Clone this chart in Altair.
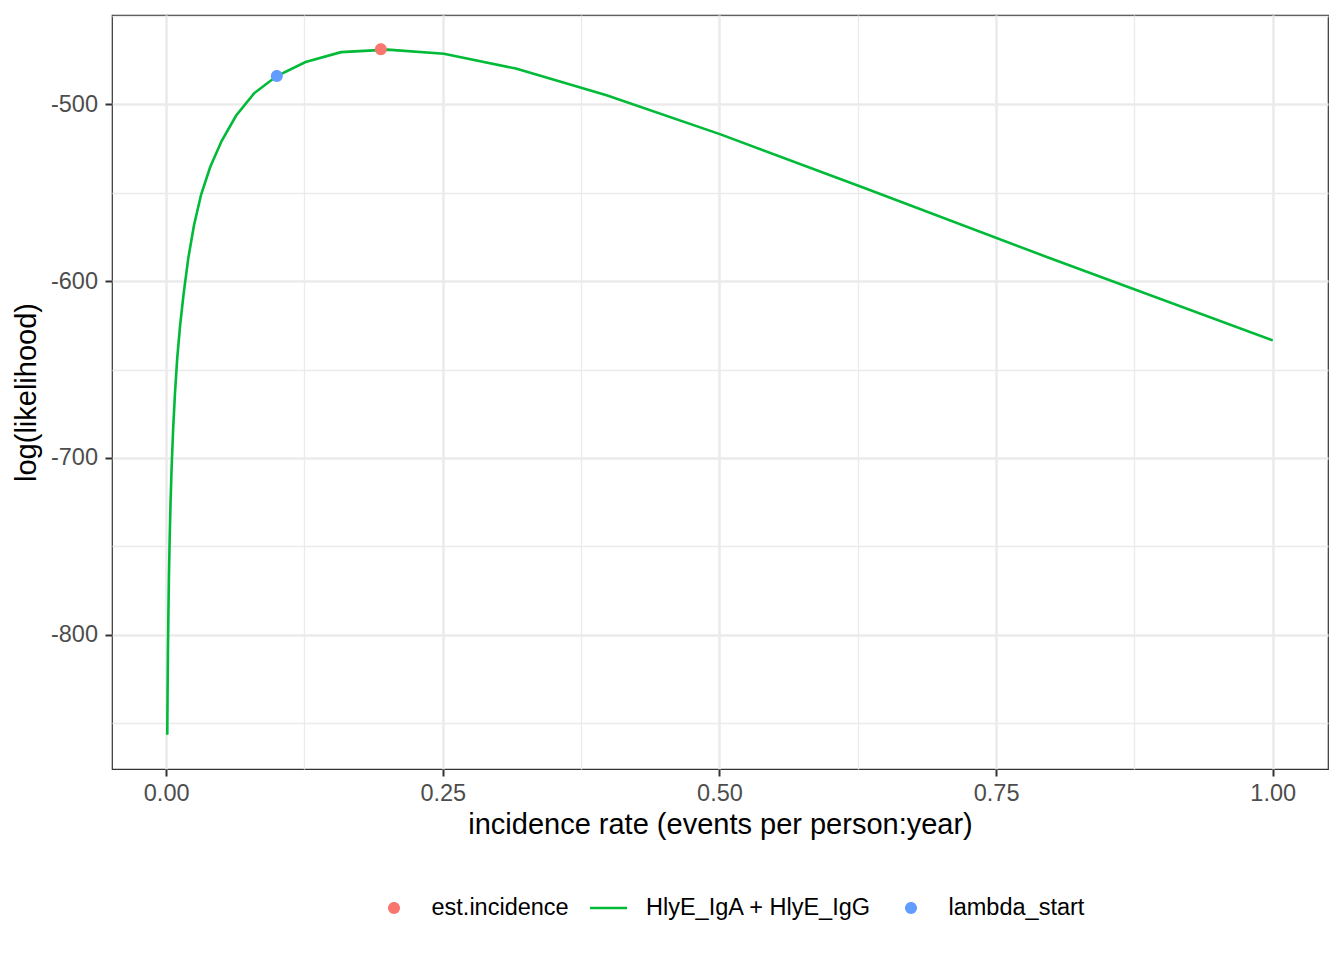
import altair as alt
import pandas as pd

# ---- data ----
lambda_grid = [0.001, 0.00126, 0.00158, 0.002, 0.00251, 0.00316, 0.00398, 0.00501,
               0.00631, 0.00794, 0.01, 0.0126, 0.0158, 0.02, 0.0251, 0.0316, 0.0398,
               0.0501, 0.0631, 0.0794, 0.1, 0.126, 0.158, 0.2, 0.251, 0.316, 0.398,
               0.501, 0.631, 0.794, 1.0]
log_lik = [-856.5, -833.5, -811.0, -789.0, -767.2, -745.7, -724.7, -704.0, -683.6,
           -663.6, -643.5, -625.0, -607.0, -587.0, -568.5, -551.0, -535.5, -520.8,
           -506.5, -493.8, -484.0, -476.1, -470.5, -469.1, -471.4, -479.8, -494.9,
           -517.0, -547.3, -585.9, -633.5]
curve_name = "HlyE_IgA + HlyE_IgG"

point_names = ["est.incidence", "lambda_start"]
point_x = [0.194, 0.1]
point_y = [-468.9, -484.0]

series_names = ["est.incidence", "HlyE_IgA + HlyE_IgG", "lambda_start"]
series_colors = ["#F8766D", "#00BA38", "#619CFF"]

x_ticks = [0, 0.125, 0.25, 0.375, 0.5, 0.625, 0.75, 0.875, 1.0]
y_ticks = [-850, -800, -750, -700, -650, -600, -550, -500, -450]

curve = pd.DataFrame({"x": lambda_grid, "y": log_lik, "series": curve_name})
pts = pd.DataFrame({"x": point_x, "y": point_y, "series": point_names})

FONT = "Liberation Sans"
SYM = 1369  # symbol box 37 px
CIRCLE_PATH = "M0.324,0A0.324,0.324,0,1,1,-0.324,0A0.324,0.324,0,1,1,0.324,0Z"
LINE_PATH = "M-1,-0.072L1,-0.072L1,0.072L-1,0.072Z"

x_major = "indexof([0, 0.25, 0.5, 0.75, 1], datum.value) >= 0"
y_major = "datum.value % 100 === 0"

common_axis = dict(
    labelFont=FONT, labelFontSize=23.5, labelColor="#4D4D4D",
    titleFont=FONT, titleFontSize=29, titleColor="#000000", titleFontWeight="normal",
    domain=False, tickColor="#333333", tickWidth=2, tickSize=7,
    gridColor="#EBEBEB", labelOverlap=False, labelFlush=False,
)

x_enc = alt.X(
    "x:Q",
    scale=alt.Scale(domain=[-0.04895, 1.04995], nice=False, zero=False),
    axis=alt.Axis(
        values=x_ticks,
        title="incidence rate (events per person:year)",
        labelExpr=f"{x_major} ? format(datum.value, '.2f') : ''",
        gridWidth={"condition": {"test": x_major, "value": 2.6}, "value": 1.3},
        tickOpacity={"condition": {"test": x_major, "value": 1}, "value": 0},
        labelPadding=5, titlePadding=6,
        **common_axis,
    ),
)
y_enc = alt.Y(
    "y:Q",
    scale=alt.Scale(domain=[-875.9, -449.5], nice=False, zero=False),
    axis=alt.Axis(
        values=y_ticks,
        title="log(likelihood)",
        labelExpr=f"{y_major} ? '' + datum.value : ''",
        gridWidth={"condition": {"test": y_major, "value": 2.6}, "value": 1.3},
        tickOpacity={"condition": {"test": y_major, "value": 1}, "value": 0},
        labelPadding=7.5, titlePadding=9,
        **common_axis,
    ),
)

legend = alt.Legend(
    title=None, orient="none", legendX=263.5, legendY=874.5,
    direction="horizontal", columns=3, columnPadding=20.5,
    labelFont=FONT, labelFontSize=23.5, labelColor="#000000", labelLimit=500,
    labelOffset=19, symbolSize=SYM, symbolStrokeWidth=0, padding=0,
)

line = alt.Chart(curve).mark_line(strokeWidth=2.6, color="#00BA38").encode(
    x=x_enc, y=y_enc, order="x:Q"
)

points = alt.Chart(pts).mark_point(filled=True, opacity=1, size=SYM, strokeWidth=0).encode(
    x=x_enc,
    y=y_enc,
    color=alt.Color("series:N", scale=alt.Scale(domain=series_names, range=series_colors),
                    legend=legend),
    shape=alt.Shape("series:N",
                    scale=alt.Scale(domain=series_names,
                                    range=[CIRCLE_PATH, LINE_PATH, CIRCLE_PATH]),
                    legend=legend),
)

chart = (
    alt.layer(line, points)
    .properties(
        width=1216, height=754,
        autosize=alt.AutoSizeParams(type="none"),
        padding={"left": 104, "top": 7, "right": 8, "bottom": 180},
        background="white",
    )
    .configure_view(stroke="#333333", strokeWidth=1.2)
)

chart.save("out.html", embed_options={"renderer": "svg", "actions": False})
